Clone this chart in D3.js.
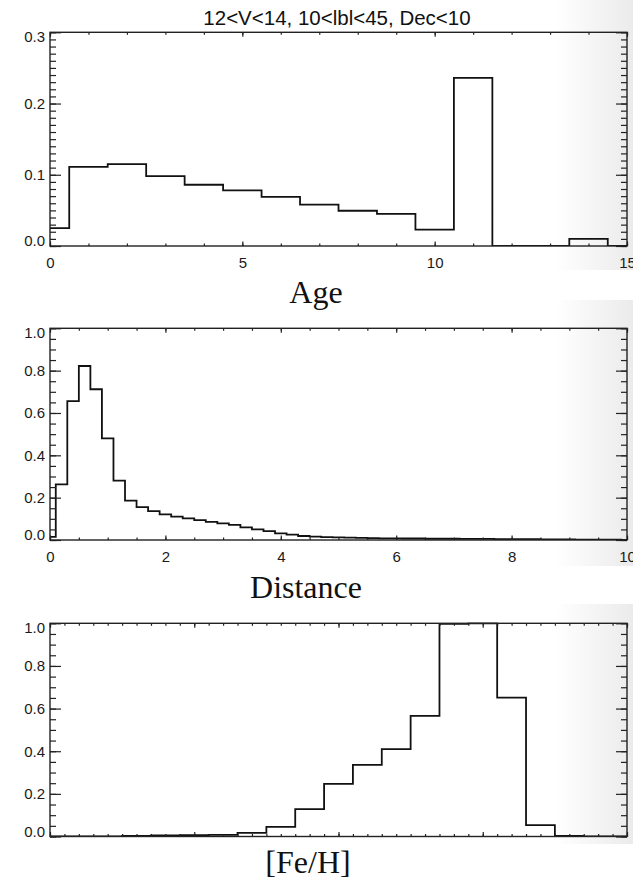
<html>

<head>
    <script src="https://d3js.org/d3.v7.min.js"></script>
    <style>
        body { margin: 0; background: #fff; }
    </style>
</head>

<body>
    <div id="vis"></div>
</body>

<script>

    // Age histogram (bins of 1 centred on integers, clipped to 0..15)
    var ageBins = [0, 1, 2, 3, 4, 5, 6, 7, 8, 9, 10, 11, 12, 13, 14, 15];
    var ageVals = [0.025, 0.111, 0.115, 0.098, 0.086, 0.078, 0.069, 0.058,
        0.0495, 0.045, 0.023, 0.236, 0, 0, 0.010, 0];
    var ageMajor = [0, 5, 10, 15];

    // Distance histogram (bins of 0.2)
    var distBins = [0, 0.2, 0.4, 0.6, 0.8, 1, 1.2, 1.4, 1.6, 1.8, 2, 2.2, 2.4, 2.6, 2.8, 3,
        3.2, 3.4, 3.6, 3.8, 4, 4.2, 4.4, 4.6, 4.8, 5, 5.2, 5.4, 5.6, 5.8, 6, 6.2, 6.4, 6.6,
        6.8, 7, 7.2, 7.4, 7.6, 7.8, 8, 8.2, 8.4, 8.6, 8.8, 9, 9.2, 9.4, 9.6, 9.8, 10];
    var distVals = [0.015, 0.263, 0.656, 0.822, 0.712, 0.48, 0.28, 0.186, 0.155, 0.136,
        0.121, 0.110, 0.102, 0.094, 0.086, 0.079, 0.071, 0.060, 0.050, 0.042, 0.031,
        0.025, 0.019, 0.016, 0.014, 0.012, 0.011, 0.010, 0.009, 0.008, 0.008, 0.007,
        0.007, 0.006, 0.006, 0.006, 0.005, 0.005, 0.005, 0.004, 0.004, 0.004, 0.004,
        0.003, 0.003, 0.003, 0.002, 0.002, 0.002, 0.002, 0.001];
    var distMajor = [0, 2, 4, 6, 8, 10];

    // [Fe/H] histogram (bins of 0.1)
    var fehBins = [-1.5, -1.4, -1.3, -1.2, -1.1, -1.0, -0.9, -0.8, -0.7, -0.6, -0.5,
        -0.4, -0.3, -0.2, -0.1, 0, 0.1, 0.2, 0.3, 0.4, 0.5];
    var fehVals = [0, 0, 0, 0.003, 0.005, 0.006, 0.008, 0.017, 0.045, 0.128, 0.247,
        0.336, 0.41, 0.566, 0.997, 1.0, 0.651, 0.053, 0.003, 0, 0];
    var fehMajor = [-1.5, -1.0, -0.5, 0, 0.5];

    var yMajorAge = [0, 0.1, 0.2, 0.3];
    var yMajorUnit = [0, 0.2, 0.4, 0.6, 0.8, 1.0];

    var title = "12<V<14, 10<lbl<45, Dec<10";

    var svg = d3.select("#vis")
        .append("svg")
        .attr("width", 633)
        .attr("height", 882);

    // grey shading at the right edge of each pasted plot
    var defs = svg.append("defs");
    var grad = defs.append("linearGradient").attr("id", "shade");
    grad.append("stop").attr("offset", "0%").attr("stop-color", "#ffffff");
    grad.append("stop").attr("offset", "100%").attr("stop-color", "#ebebeb");
    [[0, 270], [300, 566], [604, 844]].forEach(function (r) {
        svg.append("rect")
            .attr("x", 555).attr("y", r[0])
            .attr("width", 78).attr("height", r[1] - r[0])
            .attr("fill", "url(#shade)");
    });

    function steps(n, start) {
        // evenly spaced tick positions (not data)
        return d3.range(n + 1).map(function (i) { return start.a + i * start.s; });
    }

    function drawPanel(o, idx) {
        var x = d3.scaleLinear().domain(o.xd).range([50, 627]);
        var y = d3.scaleLinear().domain(o.yd).range([o.bottom, o.top]);
        var g = svg.append("g");

        defs.append("clipPath").attr("id", "clip" + idx)
            .append("rect")
            .attr("x", 50).attr("y", o.top - 1)
            .attr("width", 577).attr("height", o.bottom - o.top + 1);

        // histogram as steps
        var pts = [];
        o.bins.forEach(function (c, i) {
            pts.push([Math.max(o.xd[0], c - o.w / 2), o.vals[i]]);
        });
        var lastC = o.bins[o.bins.length - 1];
        pts.push([Math.min(o.xd[1], lastC + o.w / 2), o.vals[o.vals.length - 1]]);

        var line = d3.line()
            .x(function (d) { return x(d[0]); })
            .y(function (d) { return y(d[1]); })
            .curve(d3.curveStepAfter);

        g.append("path")
            .datum(pts)
            .attr("d", line)
            .attr("fill", "none")
            .attr("stroke", "#111")
            .attr("stroke-width", 1.8)
            .attr("clip-path", "url(#clip" + idx + ")");

        function clean(sel) {
            sel.select(".domain").remove();
            sel.selectAll("line").attr("stroke", "#222").attr("stroke-width", 1.2);
            sel.attr("font-family", "Liberation Sans, Arial, sans-serif")
                .attr("font-size", 15);
            sel.selectAll("text").attr("fill", "#1a1a1a");
        }

        // x axes
        g.append("g").attr("transform", "translate(0," + o.bottom + ")")
            .call(d3.axisBottom(x).tickValues(o.xMinor).tickSize(-2.5).tickFormat(""))
            .call(clean);
        g.append("g").attr("transform", "translate(0," + o.bottom + ")")
            .call(d3.axisBottom(x).tickValues(o.xMajor).tickSize(-4.5).tickPadding(11)
                .tickFormat(o.xLabels ? d3.format("d") : ""))
            .call(clean);
        g.append("g").attr("transform", "translate(0," + o.top + ")")
            .call(d3.axisTop(x).tickValues(o.xMinor).tickSize(-2.5).tickFormat(""))
            .call(clean);
        g.append("g").attr("transform", "translate(0," + o.top + ")")
            .call(d3.axisTop(x).tickValues(o.xMajor).tickSize(-4.5).tickFormat(""))
            .call(clean);

        // y axes
        g.append("g").attr("transform", "translate(50,0)")
            .call(d3.axisLeft(y).tickValues(o.yMinor).tickSize(-6).tickFormat(""))
            .call(clean);
        var yl = g.append("g").attr("transform", "translate(50,0)")
            .call(d3.axisLeft(y).tickValues(o.yMajor).tickSize(-11).tickPadding(5)
                .tickFormat(d3.format(".1f")))
            .call(clean);
        g.append("g").attr("transform", "translate(627,0)")
            .call(d3.axisRight(y).tickValues(o.yMinor).tickSize(-6).tickFormat(""))
            .call(clean);
        g.append("g").attr("transform", "translate(627,0)")
            .call(d3.axisRight(y).tickValues(o.yMajor).tickSize(-11).tickFormat(""))
            .call(clean);

        // keep end labels inside the box, like IDL does
        var yt = yl.selectAll("text");
        yt.filter(function (d, i) { return i === 0; }).attr("transform", "translate(0,-5)");
        yt.filter(function (d, i) { return i === o.yMajor.length - 1; }).attr("transform", "translate(0,4.5)");

        // box
        g.append("rect")
            .attr("x", 50).attr("y", o.top)
            .attr("width", 577).attr("height", o.bottom - o.top)
            .attr("fill", "none")
            .attr("stroke", "#222")
            .attr("stroke-width", 1.4);

        svg.append("text")
            .attr("x", o.labelX).attr("y", o.labelY)
            .attr("text-anchor", "middle")
            .style("font-family", "Liberation Serif, Times New Roman, serif")
            .style("font-size", "32px")
            .attr("fill", "#111")
            .text(o.label);
    }

    drawPanel({
        bins: ageBins, vals: ageVals, w: 1, xd: [0, 15], yd: [0, 0.3],
        top: 32.3, bottom: 246,
        xMajor: ageMajor, xMinor: steps(15, { a: 0, s: 1 }), xLabels: true,
        yMajor: yMajorAge, yMinor: steps(30, { a: 0, s: 0.01 }),
        label: "Age", labelX: 316, labelY: 303
    }, 1);

    drawPanel({
        bins: distBins, vals: distVals, w: 0.2, xd: [0, 10], yd: [0, 1],
        top: 328.3, bottom: 540,
        xMajor: distMajor, xMinor: steps(20, { a: 0, s: 0.5 }), xLabels: true,
        yMajor: yMajorUnit, yMinor: steps(20, { a: 0, s: 0.05 }),
        label: "Distance", labelX: 306, labelY: 598
    }, 2);

    drawPanel({
        bins: fehBins, vals: fehVals, w: 0.1, xd: [-1.5, 0.5], yd: [0, 1],
        top: 623.3, bottom: 836.5,
        xMajor: fehMajor, xMinor: steps(40, { a: -1.5, s: 0.05 }), xLabels: false,
        yMajor: yMajorUnit, yMinor: steps(20, { a: 0, s: 0.05 }),
        label: "[Fe/H]", labelX: 308, labelY: 873
    }, 3);

    svg.append("text")
        .attr("x", 337).attr("y", 25)
        .attr("text-anchor", "middle")
        .style("font-family", "Liberation Sans, Arial, sans-serif")
        .style("font-size", "20.5px")
        .attr("fill", "#111")
        .text(title);

</script>

</html>
